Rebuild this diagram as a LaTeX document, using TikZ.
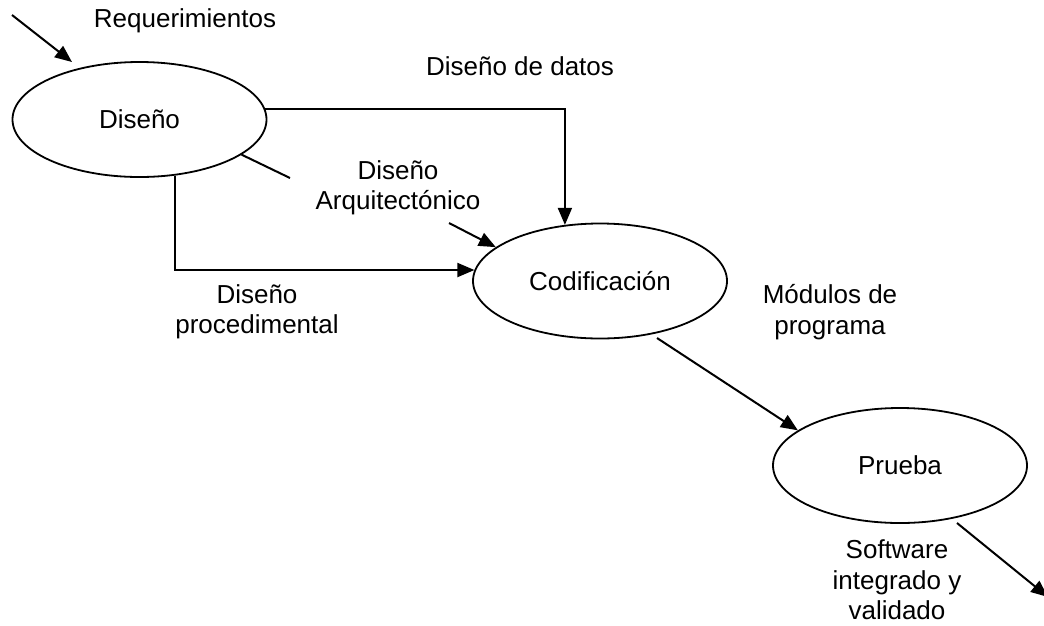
\documentclass[tikz,border=0pt]{standalone}
\usepackage{fontspec}
\setmainfont{Liberation Sans}
\usetikzlibrary{arrows.meta}
\usetikzlibrary{shapes.geometric}

\begin{document}
\begin{tikzpicture}[->,>={Triangle[length=17pt,width=14pt]},x=1pt,y=-1pt,line width=2pt]
	\tikzstyle{every node}=[font=\fontsize{26}{30.5}\selectfont,text=black]
	\tikzstyle{fase}=[shape=ellipse,draw=black,line width=1.8pt,minimum width=254pt,minimum height=115pt,inner sep=0pt]
	\tikzstyle{etiq}=[align=center,inner sep=0pt]

	\useasboundingbox (0,0) rectangle (1044,625);

	\node[fase] (dis) at (139.5,119.5) {Diseño};
	\node[fase] (cod) at (600,281)     {Codificación};
	\node[fase] (pru) at (900,465.5)   {Prueba};

	\node[etiq] (lreq)  at (185,21)  {Requerimientos};
	\node[etiq] (ldat)  at (520,66)  {Diseño de datos};
	\node[etiq] (larq)  at (398,188) {Diseño\\Arquitectónico};
	\node[etiq] (lproc) at (257,312) {Diseño\\procedimental};
	\node[etiq] (lmod)  at (830,312) {Módulos de\\programa};
	\node[etiq] (lsoft) at (897,580) {Software\\integrado y\\validado};

	\coordinate (rqa)   at (12,15);
	\coordinate (rqb)   at (72,62);
	\coordinate (arqa)  at (449,223);
	\coordinate (corte) at (290,178);
	\coordinate (moda)  at (657,338);
	\coordinate (sofa)  at (957,523);
	\coordinate (sofb)  at (1048,597);

	\draw (rqa) -- (rqb);
	\draw (dis.5) -| (cod.122);
	\draw[-] (dis.341.6) -- (corte);
	\draw (arqa) -- (cod.162);
	\draw (dis.302) |- (cod.175);
	\draw (moda) -- (pru.161);
	\draw (sofa) -- (sofb);
\end{tikzpicture}
\end{document}
